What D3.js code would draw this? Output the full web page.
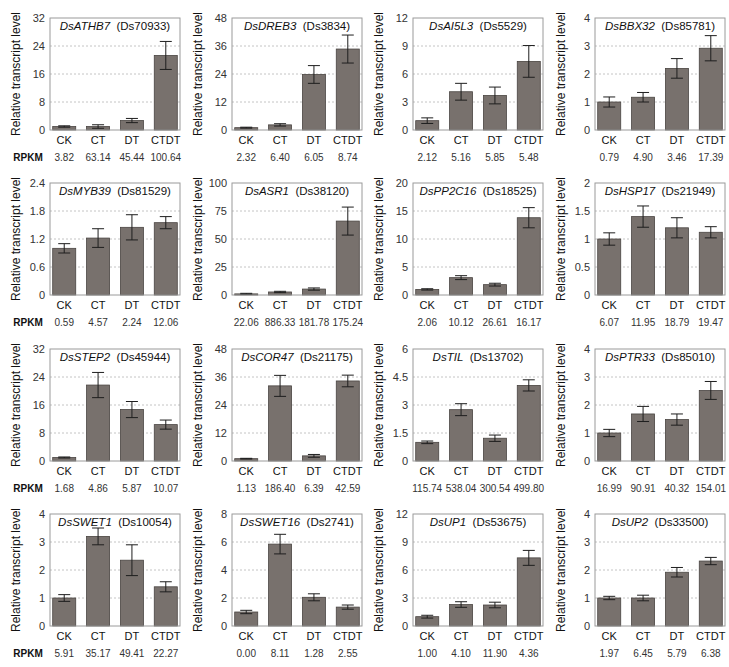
<!DOCTYPE html>
<html>
<head>
<meta charset="utf-8">
<script src="https://cdn.jsdelivr.net/npm/d3@7"></script>
<style>
  body { margin: 0; background: #fff; }
  svg text { font-family: Arial, "Liberation Sans", sans-serif; }
</style>
</head>
<body>
<svg width="729" height="667"></svg>
<script>
// data
const categories = ["CK", "CT", "DT", "CTDT"]
const genes = ["DsATHB7", "DsDREB3", "DsAI5L3", "DsBBX32",
  "DsMYB39", "DsASR1", "DsPP2C16", "DsHSP17",
  "DsSTEP2", "DsCOR47", "DsTIL", "DsPTR33",
  "DsSWET1", "DsSWET16", "DsUP1", "DsUP2"]
const gene_ids = ["Ds70933", "Ds3834", "Ds5529", "Ds85781",
  "Ds81529", "Ds38120", "Ds18525", "Ds21949",
  "Ds45944", "Ds21175", "Ds13702", "Ds85010",
  "Ds10054", "Ds2741", "Ds53675", "Ds33500"]
const y_max = [32, 48, 12, 4, 2.4, 100, 20, 2, 32, 48, 6, 4, 4, 8, 12, 4]
const y_step = [8, 12, 3, 1, 0.6, 25, 5, 0.5, 8, 12, 1.5, 1, 1, 2, 3, 1]
const means = [
  [1.0, 1.0, 2.7, 21.3], [1.0, 2.2, 23.8, 34.7], [1.0, 4.1, 3.7, 7.35], [1.0, 1.17, 2.2, 2.92],
  [1.0, 1.22, 1.45, 1.55], [1.0, 2.7, 5.3, 66], [1.0, 3.1, 1.85, 13.8], [1.0, 1.4, 1.2, 1.12],
  [1.0, 21.7, 14.7, 10.4], [1.0, 32.2, 2.2, 34.3], [1.0, 2.75, 1.22, 4.05], [1.0, 1.68, 1.48, 2.52],
  [1.0, 3.2, 2.35, 1.4], [1.0, 5.85, 2.05, 1.35], [1.0, 2.3, 2.25, 7.3], [1.0, 1.0, 1.92, 2.32]
]
const errors = [
  [0.2, 0.5, 0.6, 4.0], [0.2, 0.5, 3.8, 6.0], [0.3, 0.9, 0.9, 1.7], [0.18, 0.17, 0.35, 0.45],
  [0.1, 0.2, 0.27, 0.13], [0.5, 0.6, 1.0, 12.5], [0.12, 0.35, 0.25, 1.8], [0.11, 0.19, 0.18, 0.1],
  [0.15, 3.6, 2.3, 1.3], [0.15, 4.5, 0.6, 2.5], [0.07, 0.32, 0.17, 0.3], [0.13, 0.27, 0.2, 0.32],
  [0.12, 0.3, 0.55, 0.18], [0.12, 0.7, 0.25, 0.15], [0.15, 0.3, 0.3, 0.8], [0.06, 0.1, 0.17, 0.13]
]
const rpkm = [
  ["3.82", "63.14", "45.44", "100.64"], ["2.32", "6.40", "6.05", "8.74"],
  ["2.12", "5.16", "5.85", "5.48"], ["0.79", "4.90", "3.46", "17.39"],
  ["0.59", "4.57", "2.24", "12.06"], ["22.06", "886.33", "181.78", "175.24"],
  ["2.06", "10.12", "26.61", "16.17"], ["6.07", "11.95", "18.79", "19.47"],
  ["1.68", "4.86", "5.87", "10.07"], ["1.13", "186.40", "6.39", "42.59"],
  ["115.74", "538.04", "300.54", "499.80"], ["16.99", "90.91", "40.32", "154.01"],
  ["5.91", "35.17", "49.41", "22.27"], ["0.00", "8.11", "1.28", "2.55"],
  ["1.00", "4.10", "11.90", "4.36"], ["1.97", "6.45", "5.79", "6.38"]
]

// layout
const col_left = [50, 232, 413, 595],
  row_top = [18, 183, 349, 514],
  pw = 130, ph = 112,
  bar_fill = "#78716d"

const svg = d3.select("svg")

function draw_panel(i) {
  let left = col_left[i % 4], top = row_top[Math.floor(i / 4)]
  let g = svg.append("g").attr("transform", `translate(${left},${top})`)

  let x = d3.scaleBand().domain(categories).range([0, pw])
    .paddingInner(0.32).paddingOuter(0.08)
  let y = d3.scaleLinear().domain([0, y_max[i]]).range([ph, 0])
  let tick_vals = d3.range(0, y_max[i] + y_step[i] / 2, y_step[i])

  // dashed grid
  g.selectAll("line.grid")
    .data(tick_vals.slice(1, -1)).enter()
    .append("line")
    .attr("class", "grid")
    .attr("x1", 0).attr("x2", pw)
    .attr("y1", d => y(d)).attr("y2", d => y(d))
    .attr("stroke", "#b5b5b5")
    .attr("stroke-dasharray", "2,2")
    .attr("stroke-width", 0.8)

  // y axis labels
  let yaxis = g.append("g")
    .call(d3.axisLeft(y).tickValues(tick_vals).tickSize(0).tickPadding(5)
      .tickFormat(d => +d.toFixed(2) + ""))
  yaxis.select(".domain").remove()
  yaxis.selectAll("text")
    .attr("font-size", "11px")
    .attr("fill", "#333")
    .attr("font-family", "Arial, 'Liberation Sans', sans-serif")

  // bars
  let rows = categories.map((c, j) => ({ cat: c, v: means[i][j], e: errors[i][j], r: rpkm[i][j] }))
  g.selectAll("rect.bar")
    .data(rows).enter()
    .append("rect")
    .attr("class", "bar")
    .attr("x", d => x(d.cat))
    .attr("width", x.bandwidth())
    .attr("y", d => y(d.v))
    .attr("height", d => ph - y(d.v))
    .attr("fill", bar_fill)
    .attr("stroke", "#4a4542")
    .attr("stroke-width", 0.8)

  // error bars
  let cap = 6
  let eb = g.selectAll("g.err").data(rows).enter()
    .append("g")
    .attr("class", "err")
    .attr("stroke", "#1e1e1e")
    .attr("stroke-width", 1)
  eb.append("line")
    .attr("x1", d => x(d.cat) + x.bandwidth() / 2)
    .attr("x2", d => x(d.cat) + x.bandwidth() / 2)
    .attr("y1", d => y(d.v + d.e))
    .attr("y2", d => y(Math.max(0, d.v - d.e)))
  eb.append("line")
    .attr("x1", d => x(d.cat) + x.bandwidth() / 2 - cap)
    .attr("x2", d => x(d.cat) + x.bandwidth() / 2 + cap)
    .attr("y1", d => y(d.v + d.e)).attr("y2", d => y(d.v + d.e))
  eb.append("line")
    .attr("x1", d => x(d.cat) + x.bandwidth() / 2 - cap)
    .attr("x2", d => x(d.cat) + x.bandwidth() / 2 + cap)
    .attr("y1", d => y(Math.max(0, d.v - d.e))).attr("y2", d => y(Math.max(0, d.v - d.e)))

  // frame
  g.append("rect")
    .attr("width", pw).attr("height", ph)
    .attr("fill", "none")
    .attr("stroke", "#9a9a9a")
    .attr("stroke-width", 1)

  // title
  let title = g.append("text")
    .attr("x", pw / 2).attr("y", 12)
    .attr("text-anchor", "middle")
    .attr("font-size", "11.5px")
    .attr("fill", "#111")
  title.append("tspan").attr("font-style", "italic").text(genes[i])
  title.append("tspan").text("\u00a0 (" + gene_ids[i] + ")")

  // category labels
  g.selectAll("text.cat")
    .data(rows).enter()
    .append("text")
    .attr("class", "cat")
    .attr("x", d => x(d.cat) + x.bandwidth() / 2)
    .attr("y", ph + 14)
    .attr("text-anchor", "middle")
    .attr("font-size", "11px")
    .attr("fill", "#111")
    .text(d => d.cat)

  // rpkm values
  g.selectAll("text.rpkm")
    .data(rows).enter()
    .append("text")
    .attr("class", "rpkm")
    .attr("x", d => x(d.cat) + x.bandwidth() / 2)
    .attr("y", ph + 31)
    .attr("text-anchor", "middle")
    .attr("font-size", "10px")
    .attr("fill", "#333")
    .text(d => d.r)

  if (i % 4 == 0) {
    g.append("text")
      .attr("x", -22).attr("y", ph + 31)
      .attr("text-anchor", "middle")
      .attr("font-size", "10px")
      .attr("font-weight", "bold")
      .attr("fill", "#111")
      .text("RPKM")
  }

  // y label
  g.append("text")
    .attr("transform", `translate(-34,${ph / 2}) rotate(-90)`)
    .attr("text-anchor", "middle")
    .attr("dy", "0.35em")
    .attr("font-size", "12px")
    .attr("fill", "#111")
    .text("Relative transcript level")
}

d3.range(genes.length).forEach(draw_panel)
</script>
</body>
</html>
